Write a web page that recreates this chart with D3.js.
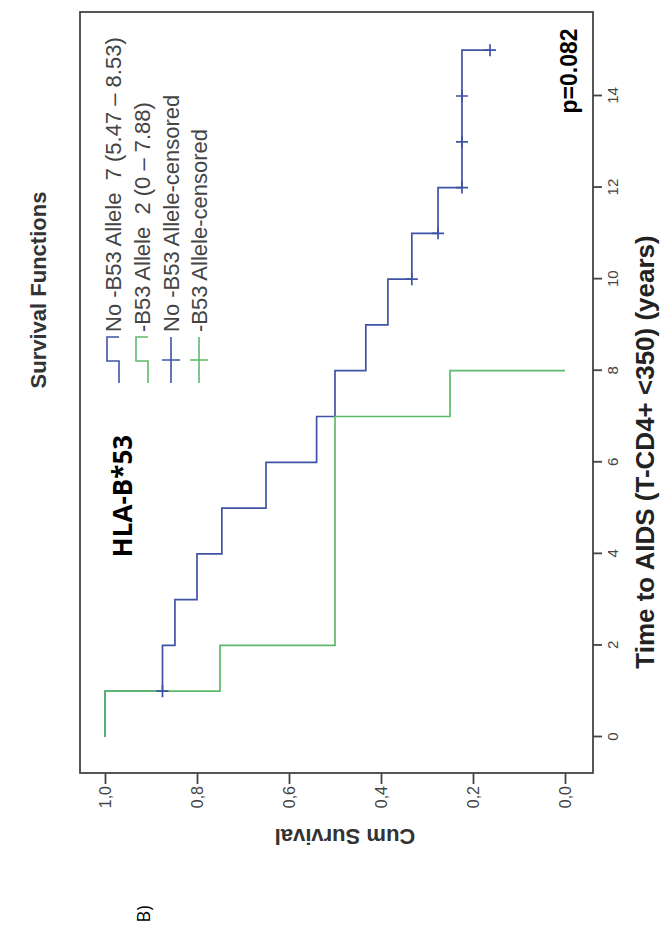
<!DOCTYPE html>
<html><head><meta charset="utf-8">
<script src="https://cdn.jsdelivr.net/npm/d3@7"></script>
<style>
html,body{margin:0;padding:0;background:#fff;}
text{font-family:"Liberation Sans",Arial,sans-serif;}
</style></head>
<body>
<script>
// ---- data ----
const timeTicks = [0, 2, 4, 6, 8, 10, 12, 14];
const survTicks = [0, 0.2, 0.4, 0.6, 0.8, 1.0];
const blueTimes = [0, 1, 2, 3, 4, 5, 6, 7, 8, 9, 10, 11, 12, 15];
const blueSurv  = [1.0, 0.875, 0.848, 0.80, 0.746, 0.65, 0.54, 0.50, 0.433, 0.385, 0.333, 0.276, 0.224, 0.163];
const blueCensorTimes = [1, 10, 11, 12, 13, 14, 15];
const blueCensorSurv  = [0.875, 0.333, 0.276, 0.224, 0.224, 0.224, 0.163];
const greenTimes = [0, 1, 2, 7, 8];
const greenSurv  = [1.0, 0.75, 0.5, 0.25, 0.0];
const legendLabels = ["No -B53 Allele  7 (5.47 \u2013 8.53)", "-B53 Allele  2 (0 \u2013 7.88)", "No -B53 Allele-censored", "-B53 Allele-censored"];
const legendKinds = ["line", "line", "censor", "censor"];
const seriesColors = ["#3f53a6", "#5dba6a", "#3f53a6", "#5dba6a"];

const svg = d3.select("body").append("svg").attr("width", 662).attr("height", 929);
// the whole chart is drawn upright and then turned a quarter turn counter-clockwise
const g = svg.append("g").attr("transform", "translate(0,929) rotate(-90)");

const fL = 156, fR = 917, fT = 80, fB = 593;
const x = d3.scaleLinear().domain([0, 14]).range([192, 833]);
const y = d3.scaleLinear().domain([0, 1]).range([565, 105]);

g.append("rect").attr("x", fL).attr("y", fT).attr("width", fR - fL).attr("height", fB - fT)
  .attr("fill", "none").attr("stroke", "#444").attr("stroke-width", 1.8);

const xAxis = g.append("g").attr("transform", `translate(0,${fB})`)
  .call(d3.axisBottom(x).tickValues(timeTicks).tickSize(9).tickPadding(5).tickFormat(d3.format("d")));
const yAxis = g.append("g").attr("transform", `translate(${fL},0)`)
  .call(d3.axisLeft(y).tickValues(survTicks).tickSize(11).tickPadding(2).tickFormat(d => d3.format(".1f")(d).replace(".", ",")));
[xAxis, yAxis].forEach(a => {
  a.select(".domain").remove();
  a.selectAll(".tick line").attr("stroke", "#444").attr("stroke-width", 1.8);
  a.selectAll(".tick text").attr("fill", "#444").style("font-family", "Liberation Sans, Arial, sans-serif");
});
xAxis.selectAll(".tick text").style("font-size", "15px");
yAxis.selectAll(".tick text").style("font-size", "16px");

// curves
const line = d3.line().x(d => x(d[0])).y(d => y(d[1])).curve(d3.curveStepAfter);
const bluePts = blueTimes.map((t, i) => [t, blueSurv[i]]);
const greenPts = greenTimes.map((t, i) => [t, greenSurv[i]]);
g.append("path").attr("d", line(bluePts)).attr("fill", "none").attr("stroke", seriesColors[0]).attr("stroke-width", 1.7);
g.append("path").attr("d", line(greenPts)).attr("fill", "none").attr("stroke", seriesColors[1]).attr("stroke-width", 1.7);

// censor marks
const arm = 6;
blueCensorTimes.forEach((t, i) => {
  const cx = x(t), cy = y(blueCensorSurv[i]);
  g.append("path").attr("d", `M${cx - arm},${cy}H${cx + arm}M${cx},${cy - arm}V${cy + arm}`)
    .attr("stroke", seriesColors[2]).attr("stroke-width", 1.7).attr("fill", "none");
});

// legend
const legRows = [113, 142, 171, 199];
const u0 = 546, symLen = 46;
legendLabels.forEach((lab, i) => {
  const v = legRows[i], c = seriesColors[i];
  if (legendKinds[i] === "line") {
    g.append("path").attr("d", `M${u0},${v + 6}H${u0 + 22}V${v - 6}H${u0 + symLen}V${v + 6}`)
      .attr("fill", "none").attr("stroke", c).attr("stroke-width", 1.6);
  } else {
    g.append("path").attr("d", `M${u0},${v}H${u0 + symLen}M${u0 + 23},${v - 9}V${v + 9}`)
      .attr("fill", "none").attr("stroke", c).attr("stroke-width", 1.6);
  }
  g.append("text").attr("x", u0 + symLen + 5).attr("y", v).attr("dy", "0.35em")
    .attr("fill", "#444").style("font-size", "22px").style("white-space", "pre").text(lab);
});

// titles / annotations
g.append("text").attr("x", 639).attr("y", 38).attr("dy", "0.35em").attr("text-anchor", "middle")
  .style("font-size", "22px").style("font-weight", "bold").attr("fill", "#333").text("Survival Functions");
g.append("text").attr("x", 433).attr("y", 123).attr("dy", "0.36em").attr("text-anchor", "middle")
  .style("font-size", "26px").style("font-weight", "bold").attr("fill", "#000")
  .style("font-family", "Open Sans, sans-serif").text("HLA-B*53");
g.append("text").attr("x", 858).attr("y", 569).attr("dy", "0.35em").attr("text-anchor", "middle")
  .style("font-size", "23px").style("font-weight", "bold").attr("fill", "#000").text("p=0.082");
g.append("text").attr("transform", `translate(92,345) rotate(-90)`).attr("dy", "0.35em").attr("text-anchor", "middle")
  .style("font-size", "22px").style("font-weight", "bold").attr("fill", "#333").text("Cum Survival");
g.append("text").attr("x", 477).attr("y", 645).attr("dy", "0.35em").attr("text-anchor", "middle")
  .style("font-size", "26px").style("font-weight", "bold").attr("fill", "#222").text("Time to AIDS (T-CD4+ <350) (years)");
g.append("text").attr("x", 15).attr("y", 144).attr("dy", "0.36em").attr("text-anchor", "middle")
  .style("font-size", "18px").attr("fill", "#000").style("font-family", "Open Sans, sans-serif").text("B)");
</script>
</body></html>
